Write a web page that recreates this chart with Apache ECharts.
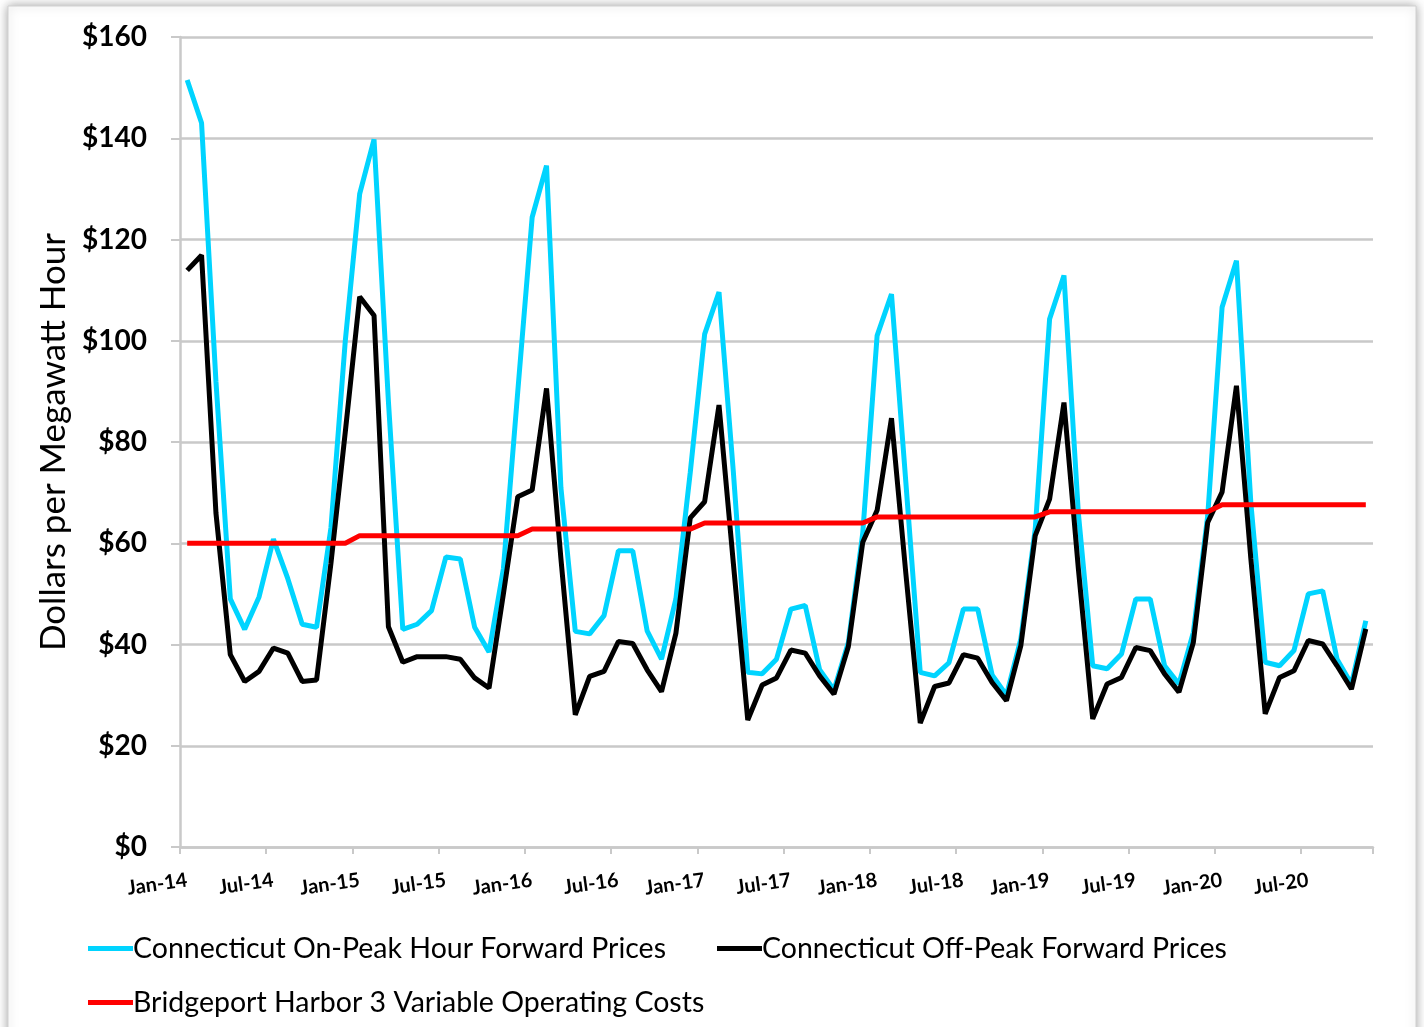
<!DOCTYPE html>
<html>
<head>
<meta charset="utf-8">
<script src="https://cdn.jsdelivr.net/npm/echarts@6/dist/echarts.min.js"></script>
<style>
html,body{margin:0;padding:0;background:#ffffff;}
#chart{width:1424px;height:1027px;}
</style>
</head>
<body>
<div id="chart"></div>
<script>
const months = [
 'Jan-14','Feb-14','Mar-14','Apr-14','May-14','Jun-14','Jul-14','Aug-14','Sep-14','Oct-14','Nov-14','Dec-14',
 'Jan-15','Feb-15','Mar-15','Apr-15','May-15','Jun-15','Jul-15','Aug-15','Sep-15','Oct-15','Nov-15','Dec-15',
 'Jan-16','Feb-16','Mar-16','Apr-16','May-16','Jun-16','Jul-16','Aug-16','Sep-16','Oct-16','Nov-16','Dec-16',
 'Jan-17','Feb-17','Mar-17','Apr-17','May-17','Jun-17','Jul-17','Aug-17','Sep-17','Oct-17','Nov-17','Dec-17',
 'Jan-18','Feb-18','Mar-18','Apr-18','May-18','Jun-18','Jul-18','Aug-18','Sep-18','Oct-18','Nov-18','Dec-18',
 'Jan-19','Feb-19','Mar-19','Apr-19','May-19','Jun-19','Jul-19','Aug-19','Sep-19','Oct-19','Nov-19','Dec-19',
 'Jan-20','Feb-20','Mar-20','Apr-20','May-20','Jun-20','Jul-20','Aug-20','Sep-20','Oct-20','Nov-20'
];

const onPeak = [
 151.5,143,92,49,43,49.4,60.8,53,44,43.4,63,100,
 129,139.8,88,43,44,46.7,57.3,56.9,43.4,38.5,55,90,
 124.4,134.6,71,42.6,42.1,45.7,58.5,58.5,42.7,37.1,49,74,
 101.3,109.6,74,34.5,34.2,37.1,47,47.7,35,31,40.4,62,
 101,109.2,72,34.5,33.8,36.4,47,47,34,30,41.1,62.8,
 104.3,112.9,66,35.8,35.2,38.1,49,49,35.8,32.2,42.4,65.4,
 106.6,115.8,68,36.5,35.8,38.8,50,50.6,37.1,32.2,44.7
];

const offPeak = [
 113.9,116.9,66,38,32.7,34.7,39.3,38.3,32.7,33,56,82,
 108.7,105,43.5,36.5,37.6,37.6,37.6,37.1,33.4,31.4,50,69.2,
 70.5,90.6,57,26.1,33.7,34.7,40.6,40.2,35,30.7,42.2,65,
 68.2,87.3,56,25.1,32,33.4,38.9,38.3,33.8,30.2,39.6,60.2,
 66.5,84.7,54,24.5,31.7,32.4,38,37.3,32.5,28.9,39.8,61.5,
 68.7,87.8,55,25.3,32.2,33.5,39.4,38.8,34.2,30.6,40.4,64.1,
 70.1,91.1,57,26.3,33.5,34.8,40.8,40.1,35.8,31.2,43.1
];

const operatingCost = [
 60,60,60,60,60,60,60,60,60,60,60,60,
 61.5,61.5,61.5,61.5,61.5,61.5,61.5,61.5,61.5,61.5,61.5,61.5,
 62.8,62.8,62.8,62.8,62.8,62.8,62.8,62.8,62.8,62.8,62.8,62.8,
 64,64,64,64,64,64,64,64,64,64,64,64,
 65.2,65.2,65.2,65.2,65.2,65.2,65.2,65.2,65.2,65.2,65.2,65.2,
 66.2,66.2,66.2,66.2,66.2,66.2,66.2,66.2,66.2,66.2,66.2,66.2,
 67.6,67.6,67.6,67.6,67.6,67.6,67.6,67.6,67.6,67.6,67.6
];

const seriesNames = [
 'Connecticut On-Peak Hour Forward Prices',
 'Connecticut Off-Peak Forward Prices',
 'Bridgeport Harbor 3 Variable Operating Costs'
];
const yAxisTitle = 'Dollars per Megawatt Hour';

const FONT = 'Lato, "Open Sans", sans-serif';
const GRID = '#c9c9c9';

const chart = echarts.init(document.getElementById('chart'), null, {renderer: 'canvas'});
const legendText = {fontFamily: FONT, fontSize: 28.5, color: '#000', padding: [0, 0, 0, -5]};
const legendBase = {icon: 'rect', itemWidth: 45, itemHeight: 5, padding: 0, textStyle: legendText, selectedMode: false};
chart.setOption({
  backgroundColor: '#ffffff',
  animation: false,
  graphic: [{
    type: 'rect', z: -10, silent: true,
    shape: {x: 8, y: 6, width: 1408, height: 1040},
    style: {fill: '#ffffff', stroke: '#d0d0d0', lineWidth: 1, shadowBlur: 10, shadowColor: 'rgba(0,0,0,0.35)'}
  }],
  grid: {left: 180, right: 51, top: 37, bottom: 180, containLabel: false},
  legend: [
    Object.assign({data: [seriesNames[0]], left: 88, top: 934}, legendBase),
    Object.assign({data: [seriesNames[1]], left: 717, top: 934}, legendBase),
    Object.assign({data: [seriesNames[2]], left: 88, top: 988}, legendBase)
  ],
  xAxis: {
    type: 'category',
    data: months,
    boundaryGap: true,
    axisLine: {lineStyle: {color: GRID, width: 2.5}},
    axisTick: {show: true, interval: 5, length: 7, lineStyle: {color: GRID, width: 2}},
    axisLabel: {interval: 5, rotate: 8, margin: 33, fontFamily: FONT, fontSize: 20, fontWeight: 'bold', color: '#000'}
  },
  yAxis: {
    type: 'value',
    min: 0, max: 160, interval: 20,
    name: yAxisTitle,
    nameLocation: 'middle',
    nameRotate: 90,
    nameGap: 106,
    nameTextStyle: {fontFamily: FONT, fontSize: 35, color: '#000'},
    axisLine: {show: true, lineStyle: {color: GRID, width: 2.5}},
    axisTick: {show: true, length: 9, lineStyle: {color: GRID, width: 2}},
    axisLabel: {formatter: '${value}', margin: 33, padding: [5, 0, 0, 0], fontFamily: FONT, fontSize: 28, fontWeight: 'bold', color: '#000'},
    splitLine: {lineStyle: {color: GRID, width: 2.5}}
  },
  series: [
    {name: seriesNames[0], type: 'line', data: onPeak, showSymbol: false, color: '#00D4FF', lineStyle: {width: 5, color: '#00D4FF'}, z: 2},
    {name: seriesNames[1], type: 'line', data: offPeak, showSymbol: false, color: '#000000', lineStyle: {width: 5, color: '#000000'}, z: 3},
    {name: seriesNames[2], type: 'line', data: operatingCost, showSymbol: false, color: '#FF0000', lineStyle: {width: 5, color: '#FF0000'}, z: 4}
  ]
});
</script>
</body>
</html>
